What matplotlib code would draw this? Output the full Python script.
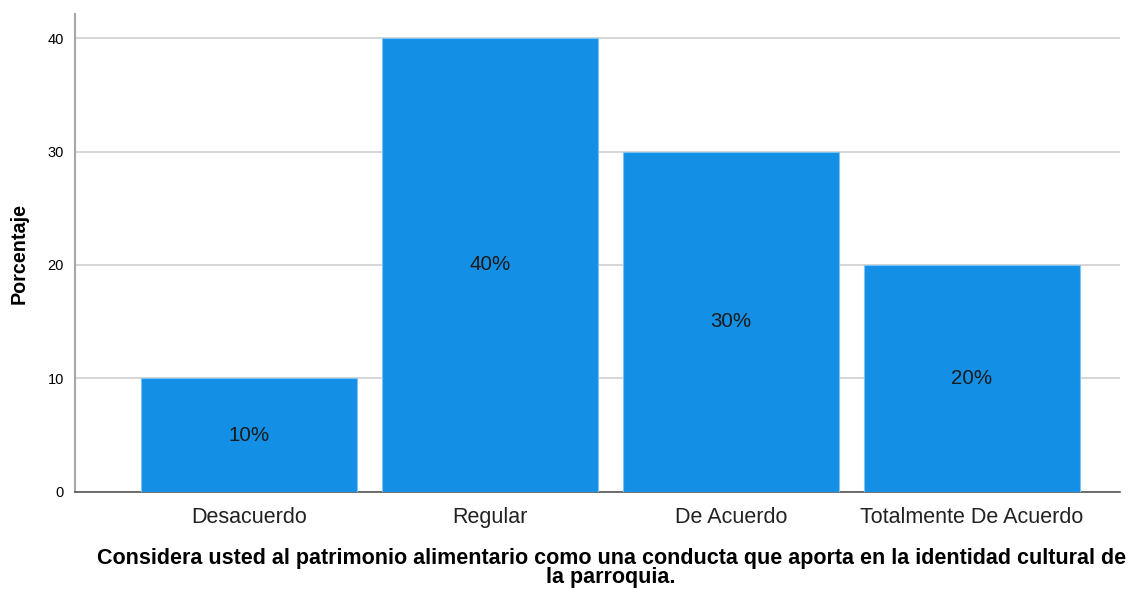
import matplotlib
matplotlib.use("Agg")
import matplotlib.pyplot as plt

categorias = ["Desacuerdo", "Regular", "De Acuerdo", "Totalmente De Acuerdo"]
porcentajes = [10, 40, 30, 20]
etiquetas = ["10%", "40%", "30%", "20%"]
yticks = [0, 10, 20, 30, 40]

plt.rcParams['font.family'] = ['Liberation Sans', 'DejaVu Sans']

fig = plt.figure(figsize=(11.34, 5.92), dpi=100)
ax = fig.add_axes([0.0661, 0.169, 0.9216, 0.807])

x = range(len(categorias))
ax.bar(x, porcentajes, width=0.896, color="#1390E6", edgecolor="#7CC3F2",
       linewidth=0.8, zorder=3)
for xi, v, lab in zip(x, porcentajes, etiquetas):
    ax.text(xi, v / 2, lab, ha="center", va="center", fontsize=14.8,
            color="#1a1a1a", zorder=4)

ax.set_xlim(-0.722, 3.614)
ax.set_ylim(0, 42.1)
ax.set_yticks(yticks)
ax.set_yticklabels([str(t) for t in yticks], fontsize=10.5)
ax.set_xticks(list(x))
ax.set_xticklabels(categorias, fontsize=15.5, color="#222222")
ax.tick_params(axis="x", length=0, pad=11)
ax.tick_params(axis="y", length=0, pad=8)
ax.yaxis.grid(True, color="#cfcfcf", linewidth=1.2, zorder=0)

for side in ["top", "right"]:
    ax.spines[side].set_visible(False)
ax.spines["left"].set_color("#a8a8a8")
ax.spines["left"].set_linewidth(1.5)
ax.spines["bottom"].set_color("#555555")
ax.spines["bottom"].set_linewidth(1.2)

ax.set_ylabel("Porcentaje", fontsize=14.2, fontweight="bold")
ax.yaxis.set_label_coords(-0.044, 0.5)
ax.set_xlabel("Considera usted al patrimonio alimentario como una conducta que aporta en la identidad cultural de\nla parroquia.",
              fontsize=15.5, fontweight="bold", linespacing=0.88)
ax.xaxis.set_label_coords(0.513, -0.118)
ax.xaxis.label.set_va("top")

fig.savefig("out.png", dpi=100)
